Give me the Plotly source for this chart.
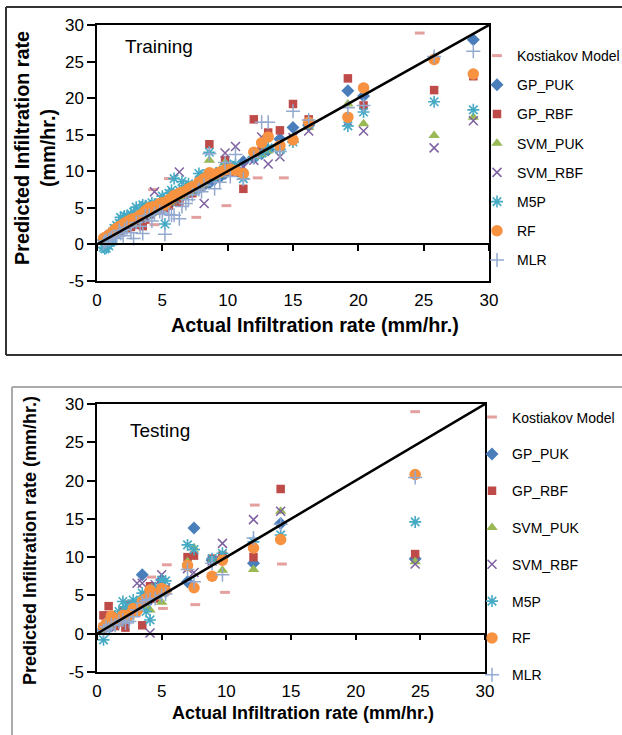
import plotly.graph_objects as go

# ---------------- data ----------------
models = ["GP_PUK", "GP_RBF", "SVM_PUK", "SVM_RBF", "M5P", "RF", "MLR"]

# Training
actual_train = [0.5, 0.6, 0.7, 0.9, 1.0, 1.1, 1.3, 1.5, 1.7, 1.8, 2.0, 2.1, 2.3, 2.6, 2.8, 3.0, 3.3, 3.5,
                3.7, 4.0, 4.2, 4.4, 4.8, 5.0, 5.2, 5.5, 5.7, 5.9, 6.3, 6.5, 6.8, 7.0, 7.3, 7.8, 8.0, 8.2,
                8.6, 9.0, 9.4, 9.8, 10.2, 10.6, 11.2, 12.0, 12.6, 13.1, 14.0, 15.0, 16.2, 19.2, 20.4,
                25.8, 28.8]
gp_puk_train = [0.6, 0.7, 0.8, 1.0, 1.1, 1.2, 1.4, 1.6, 1.7, 1.9, 2.1, 2.2, 2.4, 2.8, 2.9, 3.1, 3.4, 3.6,
                3.8, 4.2, 4.3, 4.6, 4.9, 5.1, 5.2, 5.6, 5.8, 6.1, 6.3, 6.6, 6.9, 7.1, 7.3, 7.7, 8.2, 8.1,
                8.4, 8.9, 9.2, 9.7, 10.4, 10.4, 11.3, 11.8, 12.4, 12.9, 14.4, 16.0, 16.3, 21.0, 20.3,
                25.4, 28.0]
gp_rbf_train = [0.7, 0.9, 0.9, 1.2, 1.0, 1.0, 1.6, 1.9, 2.2, 1.7, 2.4, 2.6, 2.2, 2.4, 3.0, 2.7, 3.6, 2.5,
                3.4, 4.3, 4.8, 4.6, 4.7, 5.3, 5.0, 5.3, 6.0, 6.4, 5.8, 6.9, 7.1, 7.0, 7.0, 8.1, 8.6, 8.5,
                13.7, 9.2, 9.9, 11.5, 10.5, 9.8, 7.6, 17.1, 12.8, 15.3, 15.6, 19.2, 17.1, 22.7, 19.0,
                21.1, 23.0]
svm_puk_train = [0.5, 0.6, 0.7, 0.9, 1.0, 1.1, 1.3, 1.5, 1.8, 1.8, 2.0, 2.2, 2.4, 2.7, 2.9, 3.1, 3.3, 3.6,
                 3.8, 4.1, 4.3, 4.4, 4.7, 5.1, 5.3, 5.6, 5.8, 6.0, 6.4, 6.6, 6.9, 7.1, 7.2, 7.7, 8.1, 8.3,
                 11.5, 9.1, 9.5, 11.2, 10.3, 10.2, 10.0, 12.0, 12.3, 12.8, 13.0, 14.3, 16.0, 19.2, 16.5,
                 14.9, 17.4]
svm_rbf_train = [0.6, 0.8, 0.9, 1.1, 1.3, 1.4, 1.5, 1.8, 1.9, 2.1, 2.3, 2.6, 2.5, 2.8, 3.3, 3.2, 3.6, 4.0,
                 3.8, 4.2, 4.6, 7.2, 5.0, 5.3, 5.4, 5.8, 6.1, 6.2, 9.9, 6.8, 7.0, 7.3, 7.4, 7.9, 8.3, 5.6,
                 9.0, 9.2, 9.8, 12.5, 10.6, 13.4, 10.6, 11.5, 14.7, 11.0, 12.0, 14.6, 15.5, 16.8, 15.5,
                 13.2, 16.9]
m5p_train = [-0.4, -0.6, -0.5, -0.2, 0.3, 0.5, 2.2, 2.6, 2.9, 3.7, 3.2, 3.9, 3.9, 4.2, 4.4, 5.1, 4.3, 5.4,
             5.3, 5.1, 5.7, 5.5, 5.7, 6.6, 2.8, 7.0, 7.4, 9.0, 7.4, 8.6, 8.0, 8.3, 7.6, 9.7, 9.3, 9.5,
             12.6, 9.0, 10.0, 10.5, 10.8, 10.9, 9.0, 12.0, 12.5, 13.2, 13.0, 14.0, 16.5, 16.2, 18.1,
             19.5, 18.4]
rf_train = [0.8, 0.9, 1.0, 1.2, 1.4, 1.5, 1.9, 2.2, 2.4, 2.5, 2.7, 2.9, 3.1, 3.4, 3.5, 3.6, 4.0, 4.2,
            4.6, 5.0, 5.1, 5.2, 5.6, 5.7, 5.4, 6.1, 6.3, 6.7, 7.0, 7.1, 7.3, 7.6, 7.9, 8.5, 8.7, 9.0,
            9.8, 9.6, 9.9, 10.2, 10.3, 10.1, 9.7, 12.6, 13.9, 14.7, 13.5, 14.3, 16.7, 17.4, 21.4,
            25.3, 23.3]
mlr_train = [0.2, 0.4, 0.5, 0.6, 0.7, 0.9, 1.0, 0.8, 1.9, 1.5, 1.2, 2.0, 2.3, 1.6, 0.8, 3.0, 2.5, 1.5,
             3.9, 4.0, 3.2, 4.2, 4.5, 4.3, 1.4, 4.1, 4.0, 4.0, 3.5, 5.2, 5.6, 6.1, 6.8, 7.5, 7.2, 8.1,
             12.4, 7.6, 8.5, 11.2, 9.3, 12.3, 8.9, 11.9, 16.7, 16.7, 12.7, 18.2, 17.0, 18.7, 19.0,
             25.7, 26.4]
kost_train_x = [1.0, 2.0, 3.0, 4.4, 4.3, 5.5, 7.6, 9.9, 12.3, 14.3, 24.7]
kost_train_y = [0.6, 1.6, 2.3, 2.7, 7.5, 9.0, 3.7, 5.3, 9.1, 9.1, 28.9]

# Testing
actual_test = [0.5, 0.7, 0.9, 1.1, 1.4, 1.7, 2.0, 2.2, 2.5, 2.8, 3.1, 3.5, 3.8, 4.1, 4.5, 5.0, 5.3,
               7.0, 7.5, 8.9, 9.7, 12.1, 14.2, 24.6]
gp_puk_test = [0.6, 1.2, 1.5, 1.0, 1.3, 1.9, 2.1, 1.8, 2.6, 2.9, 3.8, 7.7, 3.9, 4.5, 4.8, 7.0, 5.5,
               6.8, 13.8, 9.6, 10.0, 9.2, 14.4, 9.8]
gp_rbf_test = [2.4, 1.3, 3.6, 2.0, 1.0, 1.5, 3.0, 0.8, 3.8, 3.4, 3.7, 1.1, 5.0, 6.2, 4.6, 5.5, 5.8,
               10.0, 10.2, 9.8, 10.2, 10.0, 18.9, 10.4]
svm_puk_test = [0.6, 0.9, 1.2, 1.0, 1.6, 1.5, 2.3, 2.0, 2.2, 3.0, 3.3, 4.2, 3.4, 3.1, 4.8, 4.1, 5.5,
                9.4, 11.2, 9.5, 8.3, 8.4, 16.0, 9.4]
svm_rbf_test = [0.8, 1.0, 0.9, 1.3, 1.4, 1.6, 2.0, 1.7, 2.8, 3.2, 6.6, 6.6, 4.6, 0.1, 6.4, 7.7, 6.0,
                8.5, 8.0, 9.5, 11.8, 14.9, 16.0, 9.1]
m5p_test = [-0.8, 0.7, 1.5, 1.6, 2.3, 2.9, 4.2, 3.5, 3.6, 4.4, 4.1, 5.3, 2.9, 1.8, 6.0, 7.0, 6.9,
            11.6, 11.0, 9.8, 10.5, 12.0, 12.9, 14.6]
rf_test = [0.9, 1.2, 1.5, 2.3, 1.7, 1.9, 2.4, 2.1, 2.5, 3.3, 3.0, 4.2, 4.6, 5.7, 5.1, 5.9, 5.6,
           8.9, 6.0, 7.5, 9.6, 11.2, 12.3, 20.8]
mlr_test = [0.4, 0.9, 0.6, 1.2, 1.1, 1.6, 1.8, 1.4, 1.6, 2.2, 3.1, 4.0, 4.3, 4.5, 4.6, 5.0, 5.2,
            8.4, 6.8, 9.2, 7.7, 12.5, 14.3, 20.4]
kost_test_x = [0.8, 1.5, 2.3, 3.0, 4.2, 5.4, 5.1, 7.6, 9.9, 12.2, 14.3, 24.6]
kost_test_y = [0.6, 1.2, 1.9, 2.4, 7.4, 9.0, 3.3, 3.8, 5.4, 16.8, 9.1, 29.0]

line_1to1 = [0, 30]
tick_vals_y = [-5, 0, 5, 10, 15, 20, 25, 30]
tick_text_y = ["-5", "0", "5", "10", "15", "20", "25", "30"]
tick_vals_x = [0, 5, 10, 15, 20, 25, 30]
tick_text_x = ["0", "5", "10", "15", "20", "25", "30"]

# ---------------- style ----------------
W, H = 622, 735
FONT = "Liberation Sans, Arial, sans-serif"

def px(x):
    return x / W

def py(y):
    return 1 - y / H

styles = {
    "Kostiakov Model": dict(symbol="line-ew", size=7, color="#E4A09F", lw=3),
    "GP_PUK": dict(symbol="diamond", size=10, color="#4A7EBB", lw=0),
    "GP_RBF": dict(symbol="square", size=8.5, color="#BE4B48", lw=0),
    "SVM_PUK": dict(symbol="triangle-up", size=10, color="#98B954", lw=0),
    "SVM_RBF": dict(symbol="x-thin", size=9, color="#7D60A0", lw=1.5),
    "M5P": dict(symbol="asterisk", size=10, color="#46AAC5", lw=1.6),
    "RF": dict(symbol="circle", size=11.5, color="#F69240", lw=0),
    "MLR": dict(symbol="cross-thin", size=10, color="#93A9CF", lw=1.5),
}

def marker(name):
    s = styles[name]
    return dict(symbol=s["symbol"], size=s["size"], color=s["color"],
                line=dict(width=s["lw"], color=s["color"]))

fig = go.Figure()

panels = [
    dict(xa="x", ya="y", xz="x3", legend="legend", actual=actual_train,
         preds=[gp_puk_train, gp_rbf_train, svm_puk_train, svm_rbf_train, m5p_train, rf_train, mlr_train],
         kx=kost_train_x, ky=kost_train_y, tag="tr"),
    dict(xa="x2", ya="y2", xz="x4", legend="legend2", actual=actual_test,
         preds=[gp_puk_test, gp_rbf_test, svm_puk_test, svm_rbf_test, m5p_test, rf_test, mlr_test],
         kx=kost_test_x, ky=kost_test_y, tag="te"),
]

for p in panels:
    fig.add_trace(go.Scatter(x=line_1to1, y=line_1to1, mode="lines", xaxis=p["xz"], yaxis=p["ya"],
                             line=dict(color="black", width=2.5), showlegend=False, hoverinfo="skip"))
    fig.add_trace(go.Scatter(x=p["kx"], y=p["ky"], mode="markers", name="Kostiakov Model",
                             marker=marker("Kostiakov Model"), xaxis=p["xa"], yaxis=p["ya"],
                             legend=p["legend"], legendgroup=p["tag"] + "k"))
    for m, vals in zip(models, p["preds"]):
        fig.add_trace(go.Scatter(x=p["actual"], y=vals, mode="markers", name=m, marker=marker(m),
                                 xaxis=p["xa"], yaxis=p["ya"], legend=p["legend"],
                                 legendgroup=p["tag"] + m))

tick_font = dict(family=FONT, size=17, color="black")

def yaxis_cfg(dom, anchor):
    return dict(domain=dom, range=[-5, 30], tickvals=tick_vals_y, ticktext=tick_text_y, anchor=anchor,
                showline=True, linecolor="black", linewidth=1.5, mirror=True, automargin=False,
                ticks="outside", ticklen=8, tickwidth=1.5, tickcolor="black",
                showgrid=False, zeroline=False, tickfont=tick_font)

def xaxis_cfg(dom, anchor):
    return dict(domain=dom, range=[0, 30], tickvals=tick_vals_x, ticktext=tick_text_x,
                anchor=anchor, showline=True, linecolor="black", linewidth=1.5, mirror=True,
                automargin=False, ticks="outside", ticklen=3, tickcolor="rgba(0,0,0,0)",
                showgrid=False, zeroline=False, tickfont=tick_font)

ydom1 = [py(281), py(25)]
ydom2 = [py(672), py(404)]
xdom1 = [px(97), px(489)]
xdom2 = [px(97), px(485)]

def zero_pos(dom):
    return dom[0] + (5 / 35) * (dom[1] - dom[0])

def zero_axis(dom, xdom, over):
    return dict(domain=xdom, range=[0, 30], overlaying=over, anchor="free", position=zero_pos(dom),
                tickvals=tick_vals_x, showticklabels=False, showline=True, linecolor="black",
                linewidth=1.5, ticks="outside", ticklen=6, tickwidth=1.5, tickcolor="black",
                showgrid=False, zeroline=False, automargin=False)

legend_common = dict(bgcolor="rgba(0,0,0,0)", font=dict(family=FONT, size=14, color="black"),
                     xanchor="left", yanchor="top", itemclick=False, traceorder="grouped",
                     xref="container", yref="container")

fig.update_layout(
    width=W, height=H, margin=dict(l=0, r=0, t=0, b=0, autoexpand=False),
    paper_bgcolor="white", plot_bgcolor="white",
    font=dict(family=FONT, color="black"),
    xaxis=xaxis_cfg(xdom1, "y"),
    yaxis=yaxis_cfg(ydom1, "x"),
    xaxis2=xaxis_cfg(xdom2, "y2"),
    yaxis2=yaxis_cfg(ydom2, "x2"),
    xaxis3=zero_axis(ydom1, xdom1, "x"),
    xaxis4=zero_axis(ydom2, xdom2, "x2"),
    legend=dict(legend_common, x=px(477), y=py(40), tracegroupgap=8),
    legend2=dict(legend_common, x=px(472), y=py(401.5), tracegroupgap=15.6),
    showlegend=True,
)

# panel frames (left/top/bottom edges; right side runs off the page)
frame_lines = [
    (6, 7, 622, 7, "#333333"), (6, 7, 6, 355, "#333333"), (6, 355, 622, 355, "#333333"),
    (12, 387, 622, 387, "#AAAAAA"), (12, 387, 12, 735, "#AAAAAA"),
]
for x0, y0, x1, y1, c in frame_lines:
    fig.add_shape(type="line", xref="paper", yref="paper", x0=px(x0), x1=px(x1), y0=py(y0), y1=py(y1),
                  line=dict(color=c, width=2), layer="below")

ann = []
ann.append(dict(text="Training", x=px(123), y=py(46), xanchor="left", yanchor="middle",
                font=dict(family=FONT, size=19)))
ann.append(dict(text="Testing", x=px(128), y=py(430), xanchor="left", yanchor="middle",
                font=dict(family=FONT, size=19)))
ann.append(dict(text="<b>Actual Infiltration rate (mm/hr.)</b>", x=px(315), y=py(325),
                xanchor="center", yanchor="middle", font=dict(family=FONT, size=19.8)))
ann.append(dict(text="<b>Actual Infiltration rate (mm/hr.)</b>", x=px(302.5), y=py(713),
                xanchor="center", yanchor="middle", font=dict(family=FONT, size=18)))
ann.append(dict(text="<b>Predicted Infiltration rate</b><br><b>(mm/hr.)</b>", x=px(35.5), y=py(148.5),
                xanchor="center", yanchor="middle", textangle=-90, font=dict(family=FONT, size=19.8)))
ann.append(dict(text="<b>Predicted Infiltration rate (mm/hr.)</b>", x=px(30), y=py(541),
                xanchor="center", yanchor="middle", textangle=-90, font=dict(family=FONT, size=18)))
for a in ann:
    a.update(xref="paper", yref="paper", showarrow=False)
fig.update_layout(annotations=ann)

fig.write_html("out.html", config={"displayModeBar": False},
               post_script="document.body.style.margin='0';document.body.style.overflow='hidden';")
